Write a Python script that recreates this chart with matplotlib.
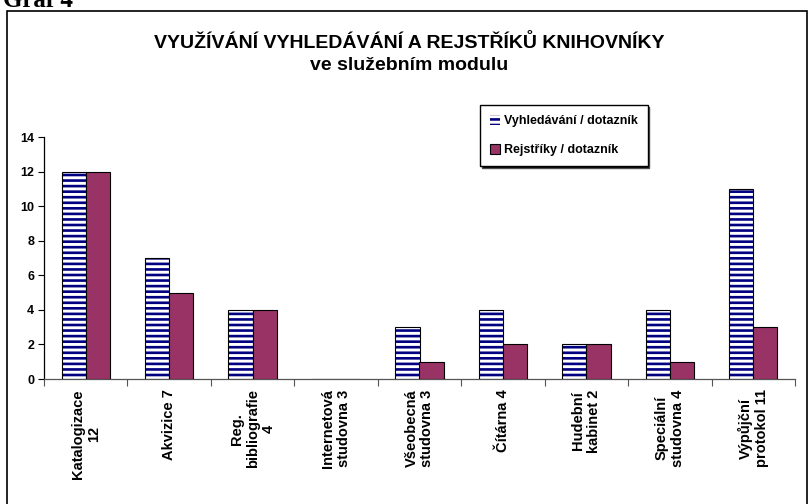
import numpy as np
import matplotlib
matplotlib.use("Agg")
import matplotlib.pyplot as plt
from matplotlib.patches import Rectangle

# ================= 数据 =================
kategorie = ["Katalogizace\n12", "Akvizice 7", "Reg.\nbibliografie\n4",
             "Internetová\nstudovna 3", "Všeobecná\nstudovna 3", "Čítárna 4",
             "Hudební\nkabinet 2", "Speciální\nstudovna 4", "Výpůjční\nprotokol 11"]
vyhledavani = [12, 7, 4, 0, 3, 4, 2, 4, 11]
rejstriky = [12, 5, 4, 0, 1, 2, 2, 1, 3]
y_ticks = [0, 2, 4, 6, 8, 10, 12, 14]

plt.rcParams['font.family'] = ['Liberation Sans', 'DejaVu Sans']
plt.rcParams['hatch.linewidth'] = 1.9

W, H = 809, 504
fig = plt.figure(figsize=(W / 100, H / 100), dpi=100)

# 外框 + 左上角被截掉的 "Graf 4"
fig.patches.append(Rectangle((7 / W, -0.1), (807 - 7) / W, 1 - 11 / H + 0.1,
                             transform=fig.transFigure, fill=False,
                             edgecolor='black', lw=1.2))
fig.text(3 / W, 1 - 7 / H, "Graf 4", family='Liberation Serif',
         fontweight='bold', fontsize=18, va='baseline', ha='left')

ax = fig.add_axes([44 / W, 1 - 379 / H, 751 / W, 242 / H])

x = np.arange(len(kategorie))
w = 0.29
ax.bar(x - w / 2, vyhledavani, w, color='white', edgecolor='#000080',
       hatch='---', linewidth=0, label='Vyhledávání / dotazník', zorder=2)
ax.bar(x - w / 2, vyhledavani, w, fill=False, edgecolor='black',
       linewidth=0.8, zorder=3)
ax.bar(x + w / 2, rejstriky, w, color='#993366', edgecolor='black',
       linewidth=0.8, label='Rejstříky / dotazník', zorder=3)

ax.set_xlim(-0.5, len(kategorie) - 0.5)
ax.set_ylim(0, 14)
ax.set_yticks(y_ticks)
ax.set_yticklabels([str(v) for v in y_ticks], fontweight='bold', fontsize=9)

# 刻度在分类之间，标签在分类中心
ax.set_xticks(np.arange(len(kategorie) + 1) - 0.5)
ax.set_xticklabels([])
ax.tick_params(axis='x', length=5, width=0.8, color='#555555')
ax.tick_params(axis='y', length=4, width=0.8, pad=3)
for xi, lab in zip(x, kategorie):
    ax.text(xi, -0.6, lab, rotation=90, ha='center', va='top',
            multialignment='center', fontweight='bold', fontsize=10.5,
            transform=ax.transData, linespacing=1.18)

for s in ['top', 'right']:
    ax.spines[s].set_visible(False)
ax.spines['left'].set_linewidth(0.9)
ax.spines['bottom'].set_linewidth(0.9)
ax.spines['bottom'].set_color('#555555')

fig.text(409 / W, 1 - 43 / H, "VYUŽÍVÁNÍ VYHLEDÁVÁNÍ A REJSTŘÍKŮ KNIHOVNÍKY",
         ha='center', va='center', fontweight='bold', fontsize=14)
fig.text(409 / W, 1 - 66 / H, "ve služebním modulu",
         ha='center', va='center', fontweight='bold', fontsize=14)

leg = fig.legend(loc='upper left', bbox_to_anchor=(480 / W, 1 - 105 / H),
                 prop={'weight': 'bold', 'size': 9}, frameon=True,
                 fancybox=False, edgecolor='black', handlelength=0.8,
                 handleheight=0.8, handletextpad=0.3, borderpad=0.8,
                 labelspacing=1.35, borderaxespad=0,
                 shadow={'ox': 1.2, 'oy': -1.2, 'facecolor': 'black', 'alpha': 1})
leg.get_frame().set_linewidth(1.0)

fig.savefig("out.png", dpi=100)
